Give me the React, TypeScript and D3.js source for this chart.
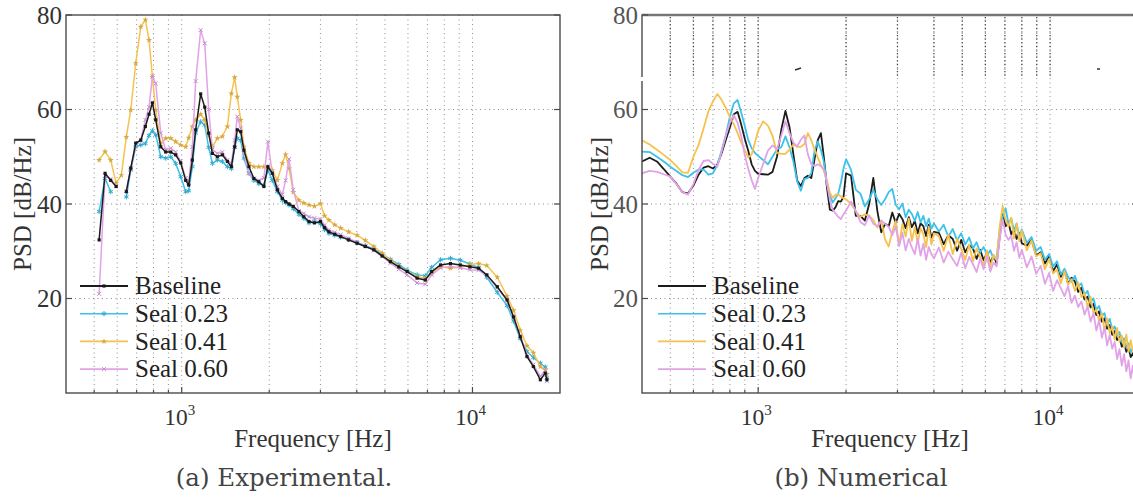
import { useRef, useEffect } from 'react';
import * as d3 from 'd3';

const WIDTH = 1133;
const HEIGHT = 503;
const FONT = '"Liberation Serif", "Times New Roman", serif';
const CAPTION_FONT = '"DejaVu Serif", serif';

const SERIES = ['Baseline', 'Seal 0.23', 'Seal 0.41', 'Seal 0.60'];
const COLORS = ['#1c1c1c', '#3cc2ea', '#f6c24e', '#e2a2e8'];

const Y_TICKS = [20, 40, 60, 80];
const X_TICKS = [1000, 10000];
const X_TICK_EXP = ['3', '4'];
const X_DOMAIN = [400, 20000];
const Y_DOMAIN = [0, 80];

// (a) Experimental
const EXP_FREQ = [520, 545, 570, 595, 620, 645, 668, 695, 723, 750, 772, 793, 814, 847, 881, 917, 953, 992, 1032, 1057,
  1088, 1117, 1162, 1200, 1238, 1275, 1326, 1380, 1436, 1482, 1521, 1553, 1595, 1637, 1703, 1771, 1842, 1917, 1978, 2049,
  2133, 2219, 2277, 2340, 2420, 2530, 2630, 2740, 2860, 3000, 3100, 3208, 3360, 3521, 3750, 4010, 4280, 4580, 4890, 5220,
  5580, 5960, 6450, 6880, 7240, 7770, 8400, 9080, 9800, 10500, 11200, 12170, 13150, 13850, 14600, 15400, 16200, 17120, 17800, 18030];
const EXP_BASELINE = [32.4, 46.5, 45, 43.7, null, 42.6, 47.6, 52.9, 53.5, 56.4, 59, 61.4, 57.8, 52.1, 51, 51, 50.4, 48.7, 45, 44,
  49.3, 55.7, 63.3, 60.5, 55, 50.7, 50, 50.4, 49, 47.9, 52.1, 55.7, 55.3, 51.4, 47.9, 45.4, 44.7, 43.7, 47.9, 46.5,
  43, 41.2, 40.5, 40, 39.5, 38.4, 37.3, 36.3, 36, 36.3, 35, 34.1, 33.6, 33.1, 32.4, 31.7, 31, 30.3, 29, 27.8,
  26.7, 25.7, 24.3, 23.9, 25.7, 27.1, 27.4, 27.1, 26.7, 26.4, 25, 22.5, 19.7, 16.1, 11.9, 7.7, 5.6, 2.8, 4.2, 2.8];
const EXP_SEAL023 = [38.4, 45.4, 42.6, null, null, 41.5, 47.2, 52.1, 52.5, 52.8, 54.5, 55.5, 54.6, 50, 49.7, 50, 48.6, 45.8, 42.6, 42.8,
  47.9, 55, 57.4, 56.7, 52, 48.6, 49.3, 49, 47.9, 47.5, 52, 53.9, 53.5, 49.7, 46.5, 45, 44.3, 44, 47.2, 45,
  42.6, 40.8, 40.3, 39.8, 39, 37.8, 37, 36, 36.3, 35.8, 34.6, 33.8, 33.4, 33, 32.5, 31.8, 31.2, 30.5, 29.4, 28.3,
  27.2, 26, 25, 24.8, 26.6, 28.2, 28.5, 28.1, 27.3, 26.5, 24.5, 21.3, 18.5, 15.2, 11.5, 8.8, 7.5, 6.3, 5.5, 3.2];
const EXP_SEAL041 = [49.3, 51.1, 49.3, 44.4, 46.1, 54.2, 59.9, 69.8, 77.5, 79, 74.7, 66.9, 59.9, 52.8, 53.9, 53.9, 53.2, 52.5, 52.1, 54,
  56.4, 57.8, 59, 57.8, 54.6, 52.1, 53.9, 54.3, 56.4, 63.4, 66.8, 62.7, 57.8, 52.1, 48.6, 47.9, 47.9, 47.9, 47.9, 47.2,
  45, 48.6, 50.5, 47.5, 42.5, 40.8, 40.2, 39.8, 39.5, 40.1, 37.5, 36.6, 35.6, 34.9, 34.1, 33.4, 32.3, 31, 29.6, 28.1,
  26.8, 25.7, 24.6, 24.3, 25.5, 26.7, 26.4, 26.6, 27.2, 27.4, 27, 24.5, 20.5, 17.5, 13.3, 10, 8.5, 5.6, 4.9, 4];
const EXP_SEAL060 = [21, 46, 45.3, 43.8, null, 42.8, 47.5, 52.5, 53.5, 57.8, 60.5, 67, 65.5, 55, 51.5, 51.8, 51, 49, 45.5, 44.5,
  52.1, 66, 76.8, 74, 60, 51.5, 50.7, 51, 49.3, 48.6, 53.5, 58.5, 56, 50.7, 46.5, 45.4, 45, 45.5, 53.2, 46.5,
  43.7, 42, 45, 49.5, 43, 38.5, 38, 37.3, 37, 36.8, 35.5, 34.5, 34, 33.5, 32.7, 31.9, 31.1, 30.2, 28.9, 27.5,
  26.2, 25, 23.3, 23, 25, 26.5, 26.8, 26.5, 26.1, 26, 24.8, 22.3, 19.5, 16, 12, 8, 6, 3.5, 4.8, 2.5];

// (b) Numerical
const NUM_FREQ = [400, 425, 450, 475, 500, 525, 550, 575, 600, 625, 650, 675, 700, 725, 750, 775, 800, 825, 850, 875, 900, 925, 950, 975, 1000,
  1040, 1080, 1120, 1160, 1200, 1240, 1280, 1320, 1360, 1400, 1440, 1480, 1520, 1560, 1600, 1640, 1680, 1720, 1760, 1800, 1840, 1880, 1920, 1960, 2000,
  2080, 2160, 2240, 2320, 2400, 2480, 2560, 2640, 2720, 2800, 2880, 2960, 3040, 3120, 3200, 3280, 3360, 3440, 3520, 3600, 3680, 3760, 3840, 3920, 4000,
  4160, 4320, 4480, 4640, 4800, 4960, 5120, 5280, 5440, 5600, 5760, 5920, 6080, 6240, 6400, 6560, 6720, 6880, 7040, 7200, 7360, 7520, 7680, 7840, 8000,
  8320, 8640, 8960, 9280, 9600, 9920, 10240, 10560, 10880, 11200, 11520, 11840, 12160, 12480, 12800, 13120, 13440, 13760, 14080, 14400,
  14720, 15040, 15360, 15680, 16000, 16320, 16640, 16960, 17280, 17600, 17920, 18240, 18560, 18880, 19200, 19520];
const NUM_BASELINE = [49, 49.8, 49, 47.4, 45.8, 44.3, 42.5, 42.2, 43.9, 46.2, 47.7, 48, 47.5, 48.4, 50.8, 53.6, 56.2, 59, 59.5, 56.8, 53.8, 51.2, 48.4, 47, 46.4,
  46.3, 46.2, 46.8, 50, 55.7, 59.7, 56.3, 50.5, 45, 43.8, 45.5, 46, 45.5, 49.5, 53.5, 55, 49.7, 43.5, 38.8, 38.6, 39.3, 40.6, 40.5, 41.5, 46.5,
  46, 37.5, 37.5, 36.5, 40, 45.5, 38.5, 34, 35.8, 35.3, 38.2, 36, 37.9, 36.8, 34.9, 37.2, 35.1, 36.4, 33.8, 35.9, 35.3, 33.2, 35.6, 32.9, 34.1,
  33.9, 31.5, 33.4, 32.6, 30.1, 32.4, 29.8, 31.3, 30.6, 28.4, 30.3, 28.1, 29.7, 27.6, 29.1, 27.4, 33.2, 37.8, 35.3, 36.1, 33.6, 34.8, 32.6, 33.9, 31.7,
  31.2, 32.4, 29.1, 29.8, 27.4, 28.9, 25.8, 27.2, 24.6, 25.9, 23.1, 24.4, 23.6, 21.4, 22.3, 19.8, 20.4, 18.1, 18.9, 16.5,
  17.3, 15.1, 15.8, 13.6, 14.4, 12.3, 13.1, 11.2, 11.9, 9.8, 10.6, 8.7, 9.5, 7.6, 8.4, 6.9];
const NUM_SEAL023 = [51.1, 51, 50, 49, 47.9, 47, 46.1, 45.7, 46.6, 47.3, 47.3, 46.2, 46.5, 48.3, 51.4, 54.6, 58.4, 61.3, 62, 59.3, 56.5, 53.5, 51.8, 50.8, 50.2,
  49.3, 48.4, 50, 51.6, 52, 54.3, 52, 49, 44.8, 42.8, 45.3, 45.5, 46.5, 51.3, 53.2, 51.5, 48.8, 44.3, 41.8, 40.3, 41.2, 42.2, 44.5, 47.5, 49.5,
  47.2, 43, 42.2, 39.5, 41, 43, 41, 39.8, 41, 42.5, 43.2, 39.8, 38.9, 40.1, 37.2, 38.8, 37.9, 36.4, 38.3, 36.1, 37.5, 35.3, 36.9, 34.8, 35.9,
  34.2, 35.6, 33.1, 34.7, 32.3, 33.8, 31.4, 32.9, 30.6, 31.9, 29.8, 30.9, 29.1, 30.2, 28.4, 28.8, 34.5, 37.2, 39.1, 35.8, 37, 34.4, 35.9, 33.2, 34.6,
  31.8, 33, 30.1, 30.9, 28.2, 29.4, 26.8, 27.9, 25.1, 26.3, 24.6, 23.5, 24.8, 22.6, 23.2, 20.8, 21.6, 19.2, 20, 17.6,
  18.4, 16.3, 16.9, 14.6, 15.7, 13.4, 14.1, 12.1, 12.9, 10.8, 11.6, 9.7, 10.5, 8.6, 9.6, 8.1];
const NUM_SEAL041 = [53.5, 52.6, 51.5, 50.4, 49.3, 48, 46.7, 46.6, 50, 52.5, 56, 59.6, 61.7, 63.3, 62, 60.3, 58.4, 56.9, 55, 53, 51.4, 49.8, 50.5, 53, 55.5,
  57.5, 56.6, 54.4, 50.8, 50.6, 50.6, 51.5, 52.6, 52.1, 52.1, 52.7, 55, 53.5, 51.5, 49.8, 48.3, 47, 45, 42.4, 41.3, 42, 42, 41.6, 41.2, 41,
  40, 38.5, 37.3, 37.8, 37.5, 36.6, 35, 36.5, 32.5, 31, 34.2, 36.4, 31.3, 35.8, 33.1, 36.9, 32.2, 35.1, 31.8, 34.9, 33.6, 30.9, 35.2, 31.4, 33.8,
  33.2, 30.1, 33.5, 29.4, 32.6, 30.5, 28.2, 31.4, 27.9, 30.6, 28.8, 27.1, 30.2, 26.6, 29.3, 28.1, 35.3, 39.6, 36.6, 35.2, 37.1, 32.7, 35.8, 32.1, 34.4,
  30.2, 32.3, 28.9, 29.6, 26.2, 28.4, 25.3, 26.1, 23.2, 25.8, 22.9, 24.1, 21.6, 23.4, 20.3, 21.1, 18.2, 20.4, 16.8, 17.7,
  15.3, 16.9, 13.2, 15.8, 12.7, 14.1, 11.3, 13.8, 10.8, 12.2, 9.6, 12.4, 8.7, 11.2, 8.9, 10.3];
const NUM_SEAL060 = [46.5, 47, 46.8, 46.3, 45.8, 44.2, 42.5, 42, 44.2, 47.2, 49.1, 49.3, 48.5, 47.9, 51.2, 54.5, 57.2, 58.8, 57.2, 54.3, 50.3, 47.4, 45, 43.2, 45.5,
  48.5, 51.3, 52.4, 51.6, 54.5, 57.5, 55, 53, 52.2, 53.6, 54.5, 50.5, 48.5, 48, 48.4, 48, 47.3, 44.5, 40.8, 38.8, 38, 37.3, 36.8, 37.8, 38.6,
  40.5, 38.5, 36.2, 35.5, 37.6, 35.8, 35.3, 36.5, 35.8, 35.2, 33.4, 35.2, 31.1, 33.9, 30.2, 32.6, 30.8, 29.4, 32.7, 29.1, 31.6, 28.2, 30.9, 29.4, 28.5,
  30.8, 27.6, 29.9, 28.3, 26.9, 29.7, 26.4, 28.8, 27.3, 25.6, 28.4, 26.2, 28.9, 25.7, 27.6, 26.8, 32.6, 36.7, 33.5, 32.4, 33.3, 30.1, 31.9, 28.6, 30.3,
  26.6, 28.9, 25.2, 26.9, 23.1, 25.4, 21.6, 23.9, 22.2, 20.5, 22.6, 19.1, 20.6, 18.2, 19.4, 16.6, 18.3, 15.1, 16.9, 13.2,
  15.4, 11.7, 13.9, 10.1, 12.3, 9.4, 10.8, 7.2, 9.3, 5.8, 8.2, 4.6, 6.9, 3.1, 5.8, 2.2];

const EXP_MARKERS = [
  { type: d3.symbolSquare, size: 10, filled: true },
  { type: d3.symbolAsterisk, size: 18, filled: false },
  { type: d3.symbolStar, size: 12, filled: true },
  { type: d3.symbolTimes, size: 12, filled: false },
];

const PANELS = [
  {
    id: 'a', left: 66, right: 560, top: 15, bottom: 393,
    freq: EXP_FREQ, values: [EXP_BASELINE, EXP_SEAL023, EXP_SEAL041, EXP_SEAL060],
    order: [1, 2, 3, 0], markers: true,
    yLabelX: 31, legendX: 80, caption: '(a) Experimental.', captionX: 284,
  },
  {
    id: 'b', left: 642, right: 1138, top: 15, bottom: 393,
    freq: NUM_FREQ, values: [NUM_BASELINE, NUM_SEAL023, NUM_SEAL041, NUM_SEAL060],
    order: [0, 1, 2, 3], markers: false,
    yLabelX: 608, legendX: 658, caption: '(b) Numerical', captionX: 861,
  },
];

function drawPanel(svg: any, p: any) {
  const x = d3.scaleLog().domain(X_DOMAIN).range([p.left, p.right]);
  const y = d3.scaleLinear().domain(Y_DOMAIN).range([p.bottom, p.top]);
  const g = svg.append('g');

  g.append('clipPath').attr('id', `clip-${p.id}`)
    .append('rect')
    .attr('x', p.left).attr('y', p.top)
    .attr('width', p.right - p.left).attr('height', p.bottom - p.top);

  const minor = x.ticks().filter((t: number) => t > X_DOMAIN[0] && t < X_DOMAIN[1]);

  // Grid
  g.append('g').selectAll('line').data(minor).join('line')
    .attr('x1', (d: number) => x(d)).attr('x2', (d: number) => x(d))
    .attr('y1', p.top).attr('y2', p.bottom)
    .attr('stroke', '#8e8e8e').attr('stroke-width', 1).attr('stroke-dasharray', '1,3.5');
  g.append('g').selectAll('line').data(Y_TICKS.filter(t => t < 80)).join('line')
    .attr('x1', p.left).attr('x2', p.right)
    .attr('y1', (d: number) => y(d)).attr('y2', (d: number) => y(d))
    .attr('stroke', '#8e8e8e').attr('stroke-width', 1).attr('stroke-dasharray', '1,3.5');

  // scan artefact on (b): darker dotted strip at the top
  if (p.id === 'b') {
    g.append('g').selectAll('line').data(minor.filter((t: number) => t <= 10000)).join('line')
      .attr('x1', (d: number) => x(d)).attr('x2', (d: number) => x(d))
      .attr('y1', p.top + 2).attr('y2', 76)
      .attr('stroke', '#444').attr('stroke-width', 1.3).attr('stroke-dasharray', '1.2,2.4');
    g.append('line').attr('x1', 795).attr('x2', 801).attr('y1', 70).attr('y2', 68)
      .attr('stroke', '#333').attr('stroke-width', 1.5);
    g.append('line').attr('x1', 1097).attr('x2', 1100).attr('y1', 69).attr('y2', 69)
      .attr('stroke', '#333').attr('stroke-width', 1.5);
  }

  // Series
  const plot = g.append('g').attr('clip-path', `url(#clip-${p.id})`);
  p.order.forEach((si: number) => {
    const vals = p.values[si];
    const line = d3.line<any>()
      .defined((d: any) => d != null)
      .x((_: any, i: number) => x(p.freq[i]))
      .y((d: any) => y(d));
    plot.append('path')
      .attr('d', line(vals))
      .attr('fill', 'none')
      .attr('stroke', COLORS[si])
      .attr('stroke-width', p.markers ? 1.5 : 1.8)
      .attr('stroke-linejoin', 'round');
    if (p.markers) {
      const m = EXP_MARKERS[si];
      const sym = d3.symbol().type(m.type).size(m.size);
      const mc = d3.color(COLORS[si])!.darker(0.4).toString();
      plot.append('g').selectAll('path')
        .data(vals.map((v: any, i: number) => ({ v, f: p.freq[i] })).filter((d: any) => d.v != null))
        .join('path')
        .attr('transform', (d: any) => `translate(${x(d.f)},${y(d.v)})`)
        .attr('d', sym())
        .attr('fill', m.filled ? mc : 'none')
        .attr('stroke', m.filled ? 'none' : mc)
        .attr('stroke-width', 1);
    }
  });

  // Frame
  const axisColor = '#4a4a4a';
  g.append('rect')
    .attr('x', p.left).attr('y', p.top)
    .attr('width', p.right - p.left).attr('height', p.bottom - p.top)
    .attr('fill', 'none').attr('stroke', axisColor).attr('stroke-width', 1.4);
  if (p.id === 'b') {
    g.append('line').attr('x1', p.left).attr('x2', WIDTH).attr('y1', p.top).attr('y2', p.top)
      .attr('stroke', '#777').attr('stroke-width', 2.6);
    g.append('rect').attr('x', p.left - 3).attr('y', 77).attr('width', 6).attr('height', 4).attr('fill', '#fff');
  }

  // Ticks
  g.append('g').selectAll('line').data(Y_TICKS).join('line')
    .attr('x1', p.left).attr('x2', p.left + 6)
    .attr('y1', (d: number) => y(d)).attr('y2', (d: number) => y(d))
    .attr('stroke', axisColor).attr('stroke-width', 1.2);
  g.append('g').selectAll('line').data(Y_TICKS).join('line')
    .attr('x1', p.right).attr('x2', p.right - 6)
    .attr('y1', (d: number) => y(d)).attr('y2', (d: number) => y(d))
    .attr('stroke', axisColor).attr('stroke-width', 1.2);
  g.append('g').selectAll('line').data(minor).join('line')
    .attr('x1', (d: number) => x(d)).attr('x2', (d: number) => x(d))
    .attr('y1', p.bottom).attr('y2', (d: number) => p.bottom - (X_TICKS.includes(d) ? 6 : 3))
    .attr('stroke', axisColor).attr('stroke-width', 1.2);

  // Tick labels
  g.append('g').selectAll('text').data(Y_TICKS).join('text')
    .attr('x', p.left - 4).attr('y', (d: number) => y(d)).attr('dy', '0.34em')
    .attr('text-anchor', 'end')
    .attr('font-family', FONT).attr('font-size', 25)
    .attr('fill', p.id === 'b' ? '#555' : '#333')
    .text((d: number) => d);

  X_TICKS.forEach((t, i) => {
    const txt = g.append('text')
      .attr('x', x(t) - 2).attr('y', 425)
      .attr('text-anchor', 'middle')
      .attr('font-family', FONT).attr('font-size', 23.5).attr('fill', '#333');
    txt.append('tspan').text('10');
    txt.append('tspan').attr('dy', -10).attr('font-size', 15).text(X_TICK_EXP[i]);
  });

  // Axis labels
  g.append('text')
    .attr('x', (p.left + p.right) / 2).attr('y', 447)
    .attr('text-anchor', 'middle')
    .attr('font-family', FONT).attr('font-size', 25).attr('fill', '#333')
    .text('Frequency [Hz]');
  g.append('text')
    .attr('transform', `translate(${p.yLabelX},${(p.top + p.bottom) / 2}) rotate(-90)`)
    .attr('text-anchor', 'middle')
    .attr('font-family', FONT).attr('font-size', 25).attr('fill', '#333')
    .text('PSD [dB/Hz]');

  // Legend
  const legend = g.append('g');
  SERIES.forEach((name, i) => {
    const ly = 286 + i * 27.7;
    legend.append('line')
      .attr('x1', p.legendX).attr('x2', p.legendX + 48)
      .attr('y1', ly).attr('y2', ly)
      .attr('stroke', COLORS[i]).attr('stroke-width', i === 0 ? 2 : 1.6);
    if (p.markers) {
      const m = EXP_MARKERS[i];
      const mc = d3.color(COLORS[i])!.darker(0.4).toString();
      legend.append('path')
        .attr('transform', `translate(${p.legendX + 24},${ly})`)
        .attr('d', d3.symbol().type(m.type).size(m.size)())
        .attr('fill', m.filled ? mc : 'none')
        .attr('stroke', m.filled ? 'none' : mc);
    }
    legend.append('text')
      .attr('x', p.legendX + 55).attr('y', ly).attr('dy', '0.33em')
      .attr('font-family', FONT).attr('font-size', 25).attr('fill', '#222')
      .text(name);
  });

  // Caption
  g.append('text')
    .attr('x', p.captionX).attr('y', 486)
    .attr('text-anchor', 'middle')
    .attr('font-family', CAPTION_FONT).attr('font-size', 24.5).attr('fill', '#444')
    .text(p.caption);
}

function App() {
  const svgRef = useRef<SVGSVGElement>(null);

  useEffect(() => {
    const svg = d3.select(svgRef.current);
    svg.selectAll('*').remove();
    svg.append('rect').attr('width', WIDTH).attr('height', HEIGHT).attr('fill', '#fff');
    PANELS.forEach(p => drawPanel(svg, p));
  }, []);

  return (
    <svg
      ref={svgRef}
      width={WIDTH}
      height={HEIGHT}
      style={{ position: 'absolute', left: 0, top: 0, display: 'block' }}
    />
  );
}

export default App;
